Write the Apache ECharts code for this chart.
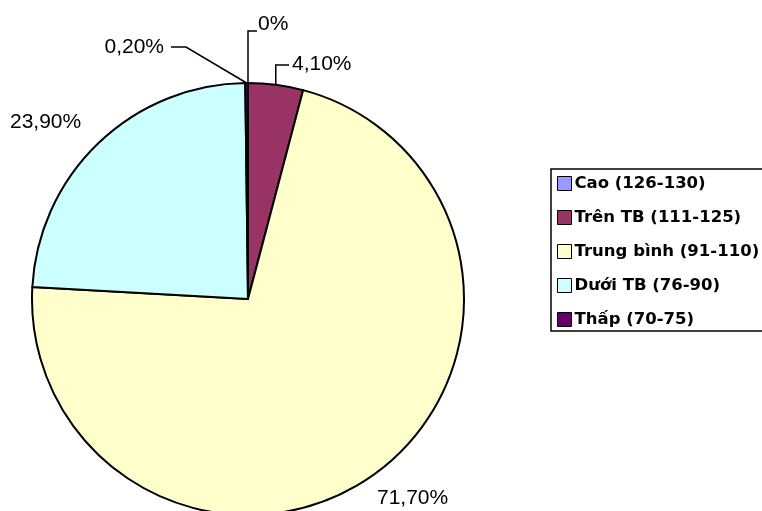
<!DOCTYPE html>
<html>
<head>
<meta charset="utf-8">
<script src="https://cdn.jsdelivr.net/npm/echarts@6/dist/echarts.min.js"></script>
<style>html,body{margin:0;padding:0;background:#fff;}#c{width:762px;height:511px;}</style>
</head>
<body>
<div id="c"></div>
<script>
const categories = ['Cao (126-130)', 'Trên TB (111-125)', 'Trung bình (91-110)', 'Dưới TB (76-90)', 'Thấp (70-75)'];
const values = [0, 4.1, 71.7, 23.9, 0.2];
const labels = ['0%', '4,10%', '71,70%', '23,90%', '0,20%'];
const colors = ['#9999FF', '#993366', '#FFFFCC', '#CCFFFF', '#660066'];

// label placement (style/layout only)
const labelLayouts = [
  { x: 258, y: 24, align: 'left', elbowY: 31, endX: 257, line: true },
  { x: 292, y: 64, align: 'left', elbowY: 65, endX: 289, line: true },
  { x: 377, y: 498, align: 'left', line: false },
  { x: 10, y: 122, align: 'left', line: false },
  { x: 164, y: 47, align: 'right', elbowX: 186, elbowY: 47, endX: 171, line: true, diag: true }
];

const chart = echarts.init(document.getElementById('c'));
chart.setOption({
  animation: false,
  backgroundColor: '#fff',
  legend: {
    orient: 'vertical',
    left: 551,
    top: 169,
    padding: [6, 8, 3, 6],
    itemGap: 17,
    itemWidth: 14,
    itemHeight: 14,
    icon: 'rect',
    borderColor: '#000',
    borderWidth: 1.5,
    borderRadius: 0,
    backgroundColor: '#fff',
    itemStyle: { borderColor: '#000', borderWidth: 1 },
    textStyle: { fontFamily: 'DejaVu Sans', fontWeight: 'bold', fontSize: 16.5, color: '#000', padding: [0, 0, 0, -2] },
    data: categories
  },
  series: [{
    type: 'pie',
    center: [248, 299],
    radius: 216,
    startAngle: 90,
    clockwise: true,
    avoidLabelOverlap: false,
    minShowLabelAngle: 0,
    itemStyle: { borderColor: '#000', borderWidth: 2 },
    label: {
      show: true,
      position: 'outside',
      fontFamily: 'Liberation Sans',
      fontSize: 21,
      color: '#000',
      formatter: p => labels[p.dataIndex]
    },
    labelLine: { show: true, lineStyle: { color: '#000', width: 1.5 }, length: 10, length2: 10 },
    labelLayout: function (params) {
      const L = labelLayouts[params.dataIndex];
      const res = { x: L.x, y: L.y, align: L.align, verticalAlign: 'middle' };
      const pts = params.labelLinePoints;
      if (L.line && pts && pts[0]) {
        const p0 = pts[0];
        if (L.diag) {
          res.labelLinePoints = [[p0[0], p0[1]], [L.elbowX, L.elbowY], [L.endX, L.elbowY]];
        } else {
          res.labelLinePoints = [[p0[0], p0[1]], [p0[0], L.elbowY], [L.endX, L.elbowY]];
        }
      }
      return res;
    },
    data: categories.map((c, i) => ({
      name: c,
      value: values[i],
      itemStyle: { color: colors[i] },
      labelLine: { show: labelLayouts[i].line }
    }))
  }]
});
</script>
</body>
</html>
